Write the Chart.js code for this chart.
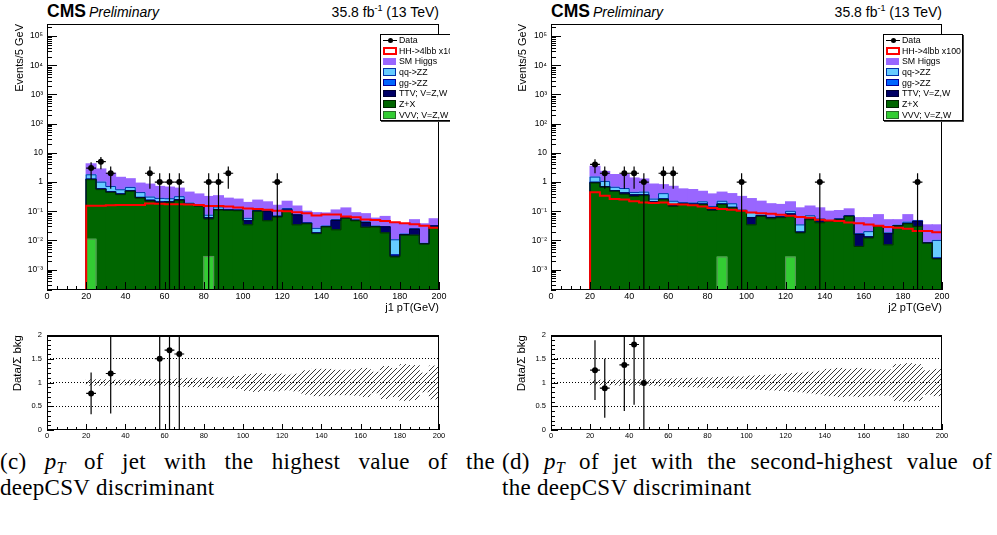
<!DOCTYPE html>
<html>
<head>
<meta charset="utf-8">
<title>jet pT, deepCSV ordered</title>
<script src="https://cdn.jsdelivr.net/npm/chart.js@4.4.1/dist/chart.umd.min.js"></script>
<style>
  html, body { margin: 0; padding: 0; background: #fff; }
  body { font-family: "Liberation Sans", Arial, Helvetica, sans-serif; color: #000; }
  #page { position: relative; width: 997px; height: 535px; overflow: hidden; }
  .panel { position: absolute; top: 0; height: 445px; overflow: hidden; }
  .panel canvas { position: absolute; left: 0; }
  .head { position: absolute; top: 1px; white-space: nowrap; line-height: 20px; }
  .cms { font-weight: bold; font-size: 17.5px; }
  .prelim { font-style: italic; font-size: 14px; margin-left: 3px; }
  .lumi { position: absolute; top: 2px; font-size: 14px; white-space: nowrap; line-height: 20px; }
  .lumi sup { font-size: 9px; vertical-align: 6px; line-height: 0; }
  .legend { position: absolute; top: 34px; width: 78px; height: 85px; border: 1px solid #000; background: #fff; box-shadow: 1px 1px 0 #444; }
  .legend .row { position: relative; height: 10.7px; font-size: 8.8px; line-height: 10.7px; padding-left: 18px; white-space: nowrap; }
  .legend .mk { position: absolute; left: 2px; top: 1.2px; width: 11px; height: 5.5px; border: 1.5px solid; }
  .legend .mkdata { position: absolute; left: 2px; top: 5px; width: 14px; height: 1px; background: #000; }
  .legend .mkdata::after { content: ''; position: absolute; left: 4.5px; top: -2.5px; width: 5px; height: 5px; border-radius: 50%; background: #000; }
  .cap { position: absolute; font-family: "Liberation Serif", "DejaVu Serif", serif; font-size: 23px; line-height: 26px; letter-spacing: 0.3px; }
  .cap div { white-space: nowrap; }
  .cap .l1 { white-space: normal; text-align: justify; text-align-last: justify; }
  .cap sub { font-size: 0.7em; vertical-align: -0.25em; line-height: 0; }
</style>
</head>
<body>
<div id="page">
  <div class="panel" id="pl" style="left:0; width:450px;">
    <div class="head" style="left:47px;"><span class="cms">CMS</span><span class="prelim">Preliminary</span></div>
    <div class="lumi" style="right:11px;">35.8 fb<sup>-1</sup> (13 TeV)</div>
    <canvas id="mainL" width="450" height="315" style="top:0;"></canvas>
    <canvas id="ratioL" width="450" height="125" style="top:320px;"></canvas>
    <div class="legend" id="legL" style="left:380px;"></div>
  </div>
  <div class="panel" id="pr" style="left:500px; width:497px;">
    <div class="head" style="left:51px;"><span class="cms">CMS</span><span class="prelim">Preliminary</span></div>
    <div class="lumi" style="right:55px;">35.8 fb<sup>-1</sup> (13 TeV)</div>
    <canvas id="mainR" width="497" height="315" style="top:0;"></canvas>
    <canvas id="ratioR" width="497" height="125" style="top:320px;"></canvas>
    <div class="legend" id="legR" style="left:383px;"></div>
  </div>
  <div class="cap" style="left:0; top:449px; width:495px;">
    <div class="l1">(c) <i>p</i><sub><i>T</i></sub> of jet with the highest value of the</div>
    <div>deepCSV discriminant</div>
  </div>
  <div class="cap" style="left:502px; top:449px; width:490px;">
    <div class="l1">(d) <i>p</i><sub><i>T</i></sub> of jet with the second-highest value of</div>
    <div>the deepCSV discriminant</div>
  </div>
</div>
<script>
// 5 GeV bins, low edges
const BIN = 5;
const binLow = [0,5,10,15,20,25,30,35,40,45,50,55,60,65,70,75,80,85,90,95,100,105,110,115,120,125,130,135,140,145,150,155,160,165,170,175,180,185,190,195];

// ---- j1: jet with highest deepCSV ----
const dataJ1 = [0,0,0,0, 3,5,2,0,0,0,2,1,1,1, 0,0,1,1,2,0,0,0,0,1, 0,0,0,0,0,0,0,0,0,0,0,0,0,0,0,0];
const hhJ1   = [0,0,0,0, 0.155,0.155,0.16,0.165,0.165,0.165,0.185,0.18,0.175,0.175, 0.17,0.165,0.15,0.15,0.145,0.135,0.125,0.12,0.112,0.104, 0.1,0.092,0.085,0.072,0.078,0.078,0.066,0.062,0.052,0.05, 0.046,0.042,0.039,0.036,0.032,0.027];
const vvvJ1  = [0,0,0,0, 0.011,0,0,0,0,0,0,0,0,0, 0,0,0.0028,0,0,0,0,0,0,0, 0,0,0,0,0,0,0,0,0,0, 0,0,0,0,0,0];
const zxJ1   = [0,0,0,0, 1.19,0.55,0.44,0.37,0.48,0.28,0.22,0.19,0.2,0.23, 0.17,0.15,0.051,0.11,0.107,0.104,0.034,0.1,0.047,0.063, 0.104,0.034,0.037,0.017,0.029,0.023,0.057,0.047,0.028,0.029, 0.018,0.0027,0.015,0.015,0.0075,0.028];
const ttvJ1  = [0,0,0,0, 0.04,0.025,0.015,0.015,0.015,0.015,0.015,0.015,0.008,0.015, 0.004,0.004,0.005,0.004,0.002,0.003,0.013,0.002,0.052,0.003, 0.005,0.04,0.0015,0.0008,0.0008,0.025,0.002,0.0015,0.013,0.0008, 0.011,0.0002,0.0008,0.009,0.0002,0.003];
const ggJ1   = [0,0,0,0, 0.01,0.006,0.005,0.004,0.004,0.003,0.003,0.002,0.002,0.002, 0.001,0.001,0.001,0.001,0.001,0.001,0.001,0.0007,0.0006,0.0005, 0.0008,0.0005,0.0004,0.0003,0.0003,0.0003,0.0003,0.0003,0.0002,0.0002, 0.0002,0.0003,0.0002,0.0002,0.0001,0.0002];
const qqJ1   = [0,0,0,0, 0.52,0.41,0.245,0.155,0.155,0.137,0.067,0.068,0.058,0.068, 0.014,0.004,0.013,0.024,0.004,0.003,0.009,0.0023,0.0034,0.0025, 0.014,0.0025,0.0016,0.0077,0.0007,0.0037,0.0017,0.0007,0.0018,0.0008, 0.0008,0.0073,0.0003,0.0008,0.0001,0.0008];
const smhJ1  = [0,0,0,0, 2.42,1.8,1.29,0.9,0.64,0.48,0.54,0.43,0.4,0.3, 0.26,0.23,0.246,0.2,0.165,0.148,0.142,0.134,0.106,0.09, 0.095,0.073,0.059,0.063,0.056,0.058,0.068,0.039,0.039,0.027, 0.036,0.0305,0.0205,0.026,0.029,0.023];
const ratioJ1    = [null,null,null,null, 0.77,null,1.19,null,null,null,null,1.5,1.68,1.6, null,null,null,null,null,null,null,null,null,null, null,null,null,null,null,null,null,null,null,null, null,null,null,null,null,null];
const ratioErrJ1 = [null,null,null,null, 0.44,null,0.84,null,null,null,null,1.5,1.68,1.6, null,null,null,null,null,null,null,null,null,null, null,null,null,null,null,null,null,null,null,null, null,null,null,null,null,null];
const bandJ1 = [0,0,0,0, 0.06,0.06,0.05,0.05,0.05,0.06,0.06,0.06,0.06,0.08, 0.09,0.09,0.11,0.1,0.11,0.13,0.17,0.19,0.17,0.18, 0.16,0.18,0.25,0.28,0.28,0.26,0.26,0.27,0.3,0.22, 0.34,0.3,0.38,0.36,0.2,0.35];

// ---- j2: jet with second-highest deepCSV ----
const dataJ2 = [0,0,0,0, 4,2,0,2,2,1,0,2,2,0, 0,0,0,0,0,1,0,0,0,0, 0,0,0,1,0,0,0,0,0,0, 0,0,0,1,0,0];
const hhJ2   = [0,0,0,0, 0.45,0.34,0.26,0.25,0.22,0.2,0.19,0.2,0.175,0.17, 0.16,0.146,0.13,0.12,0.112,0.104,0.09,0.086,0.082,0.076, 0.07,0.063,0.06,0.051,0.048,0.046,0.041,0.039,0.035,0.032, 0.029,0.027,0.025,0.021,0.021,0.019];
const vvvJ2  = [0,0,0,0, 0,0,0,0,0,0,0,0,0,0, 0,0,0,0.0027,0,0,0,0,0,0, 0.0027,0,0,0,0,0,0,0,0,0, 0,0,0,0,0,0];
const zxJ2   = [0,0,0,0, 0.92,0.66,0.48,0.38,0.32,0.34,0.2,0.25,0.146,0.175, 0.17,0.17,0.107,0.167,0.13,0.099,0.034,0.066,0.055,0.06, 0.063,0.018,0.051,0.04,0.045,0.051,0.066,0.0062,0.012,0.03, 0.007,0.031,0.037,0.03,0.008,0.0023];
const ttvJ2  = [0,0,0,0, 0.05,0.03,0.02,0.04,0.04,0.02,0.01,0.01,0.014,0.005, 0.005,0.005,0.003,0.005,0.005,0.003,0.026,0.004,0.005,0.003, 0.014,0.001,0.004,0.012,0.002,0.002,0.002,0.0098,0.001,0.001, 0.01,0.001,0.001,0.015,0.0002,0.0001];
const ggJ2   = [0,0,0,0, 0.008,0.005,0.004,0.004,0.003,0.003,0.002,0.002,0.002,0.002, 0.001,0.001,0.001,0.001,0.001,0.001,0.001,0.0008,0.0006,0.0005, 0.0006,0.0004,0.0004,0.0003,0.0003,0.0003,0.0003,0.0002,0.0002,0.0002, 0.0002,0.0002,0.0002,0.0002,0.0001,0.0001];
const qqJ2   = [0,0,0,0, 0.5,0.355,0.156,0.176,0.077,0.087,0.048,0.138,0.058,0.018, 0.014,0.034,0.035,0.044,0.044,0.007,0.029,0.011,0.0014,0.0015, 0.019,0.0146,0.0146,0.0017,0.0007,0.0007,0.0007,0.0008,0.0068,0.0008, 0.0008,0.0008,0.0038,0.0008,0.0002,0.0075];
const smhJ2  = [0,0,0,0, 1.97,1.25,1.14,1.2,0.93,0.82,0.59,0.41,0.49,0.38, 0.36,0.27,0.244,0.23,0.22,0.21,0.18,0.138,0.118,0.105, 0.11,0.096,0.08,0.076,0.052,0.051,0.051,0.043,0.04,0.044, 0.033,0.018,0.034,0.002,0.0255,0.024];
const ratioJ2    = [null,null,null,null, 1.26,0.88,null,1.37,1.8,0.99,null,null,null,null, null,null,null,null,null,null,null,null,null,null, null,null,null,null,null,null,null,null,null,null, null,null,null,null,null,null];
const ratioErrJ2 = [null,null,null,null, 0.63,0.62,null,0.97,1.27,0.99,null,null,null,null, null,null,null,null,null,null,null,null,null,null, null,null,null,null,null,null,null,null,null,null, null,null,null,null,null,null];
const bandJ2 = [0,0,0,0, 0.05,0.05,0.05,0.06,0.06,0.06,0.06,0.07,0.08,0.09, 0.09,0.1,0.1,0.11,0.12,0.12,0.14,0.15,0.16,0.17, 0.19,0.2,0.22,0.24,0.28,0.3,0.28,0.3,0.28,0.27, 0.27,0.38,0.4,0.38,0.25,0.28];

// axis ranges and ticks
const Y_MIN = 2e-4, Y_MAX = 2.6e5;
const logTicks = [1e-3, 1e-2, 1e-1, 1, 10, 1e2, 1e3, 1e4, 1e5];

// styles
const COL  = { smh: '#9966ff', qq: '#66ccff', gg: '#0066ff', ttv: '#000066', zx: '#006600', vvv: '#33cc33', hh: '#ff0000' };
const EDGE = { qq: '#0033aa', gg: '#000099', ttv: '#000033', zx: '#003300', vvv: '#5a8a5a' };
const FONT = '"Liberation Sans", Arial, Helvetica, sans-serif';
Chart.defaults.font.family = FONT;
Chart.defaults.color = '#000';

const SUP = { '-': '\u207b', '0': '\u2070', '1': '\u00b9', '2': '\u00b2', '3': '\u00b3', '4': '\u2074', '5': '\u2075', '6': '\u2076', '7': '\u2077', '8': '\u2078', '9': '\u2079' };
function logLabel(v) {
  const e = Math.round(Math.log10(v));
  if (e === 0) return '1';
  if (e === 1) return '10';
  return '10' + String(e).split('').map(c => SUP[c]).join('');
}

// error bars for the data markers
const errorBars = {
  id: 'errorBars',
  afterDatasetsDraw(chart) {
    const { ctx, chartArea: a, scales: { x, y } } = chart;
    ctx.save();
    ctx.beginPath();
    ctx.rect(a.left, a.top, a.width, a.height);
    ctx.clip();
    ctx.strokeStyle = '#000';
    ctx.lineWidth = 1.2;
    chart.data.datasets.forEach(ds => {
      if (!ds.err) return;
      ds.data.forEach((p, i) => {
        const e = ds.err[i];
        const px = x.getPixelForValue(p.x);
        const py = y.getPixelForValue(p.y);
        const lo = p.y - e > 0 ? y.getPixelForValue(p.y - e) : a.bottom;
        const hi = y.getPixelForValue(p.y + e);
        ctx.beginPath();
        ctx.moveTo(px, lo);
        ctx.lineTo(px, hi);
        ctx.moveTo(x.getPixelForValue(p.x - BIN / 2), py);
        ctx.lineTo(x.getPixelForValue(p.x + BIN / 2), py);
        ctx.stroke();
      });
    });
    ctx.restore();
  }
};

// ROOT style frame with inward ticks
const rootFrame = {
  id: 'rootFrame',
  afterDraw(chart, args, o) {
    const { ctx, chartArea: a, scales: { x, y } } = chart;
    ctx.save();
    ctx.strokeStyle = '#000';
    ctx.lineWidth = 1;
    ctx.beginPath();
    const nx = Math.round((x.max - x.min) / o.xMinor);
    for (let i = 0; i <= nx; i++) {
      const v = x.min + i * o.xMinor;
      const px = Math.round(x.getPixelForValue(v)) + 0.5;
      const len = (i % (o.xMajor / o.xMinor) === 0) ? o.xMajorLen : o.xMinorLen;
      ctx.moveTo(px, a.bottom);
      ctx.lineTo(px, a.bottom - len);
    }
    if (o.log) {
      for (let e = Math.floor(Math.log10(y.min)); e <= Math.ceil(Math.log10(y.max)); e++) {
        for (let k = 1; k <= 9; k++) {
          const v = k * Math.pow(10, e);
          if (v < y.min || v > y.max) continue;
          const py = Math.round(y.getPixelForValue(v)) + 0.5;
          ctx.moveTo(a.left, py);
          ctx.lineTo(a.left + (k === 1 ? o.yMajorLen : o.yMinorLen), py);
        }
      }
    } else {
      const ny = Math.round((y.max - y.min) / o.yMinor);
      for (let i = 0; i <= ny; i++) {
        const v = y.min + i * o.yMinor;
        const py = Math.round(y.getPixelForValue(v)) + 0.5;
        ctx.moveTo(a.left, py);
        ctx.lineTo(a.left + ((i % Math.round(o.yMajor / o.yMinor) === 0) ? o.yMajorLen : o.yMinorLen), py);
      }
    }
    ctx.stroke();
    ctx.strokeRect(Math.round(a.left) + 0.5, Math.round(a.top) + 0.5, Math.round(a.width) - 1, Math.round(a.height) - 1);
    if (o.thickTop) {
      ctx.lineWidth = 2;
      ctx.beginPath();
      ctx.moveTo(a.left, Math.round(a.top) + 1);
      ctx.lineTo(a.right, Math.round(a.top) + 1);
      ctx.stroke();
    }
    ctx.restore();
  }
};

function hatch() {
  const c = document.createElement('canvas');
  c.width = 5; c.height = 5;
  const g = c.getContext('2d');
  g.strokeStyle = '#222';
  g.lineWidth = 0.9;
  g.beginPath();
  g.moveTo(0, 5); g.lineTo(5, 0);
  g.moveTo(-1, 1); g.lineTo(1, -1);
  g.moveTo(4, 6); g.lineTo(6, 4);
  g.stroke();
  return g.createPattern(c, 'repeat');
}

// filled stack component (stacked through the 'bkg' stack key)
function stackSet(label, values, bg) {
  return {
    type: 'bar', label, stack: 'bkg',
    data: binLow.map((b, i) => ({ x: b + BIN / 2, y: values[i] > 0 ? values[i] : null })),
    backgroundColor: bg, borderWidth: 0, inflateAmount: 0.6,
    barPercentage: 1, categoryPercentage: 1
  };
}

// histogram outline as a stepped line along bin edges
function stepLine(label, values, color, width) {
  const pts = binLow.map((b, i) => ({ x: b, y: values[i] > 0 ? values[i] : Y_MIN }));
  pts.push({ x: binLow[binLow.length - 1] + BIN, y: pts[pts.length - 1].y });
  return { type: 'line', label, data: pts, stepped: true, borderColor: color, borderWidth: width,
           pointRadius: 0, pointHoverRadius: 0, fill: false };
}

function mainChart(id, d, p) {
  const pts = [];
  binLow.forEach((b, i) => { if (d.data[i] > 0) pts.push({ x: b + BIN / 2, y: d.data[i] }); });
  // running sums of the stack, used only for the outlines of each layer
  const cZX  = binLow.map((b, i) => d.vvv[i] + d.zx[i]);
  const cTTV = cZX.map((v, i) => v + d.ttv[i]);
  const cGG  = cTTV.map((v, i) => v + d.gg[i]);
  const cQQ  = cGG.map((v, i) => v + d.qq[i]);
  return new Chart(document.getElementById(id), {
    type: 'bar',
    data: {
      datasets: [
        { type: 'line', label: 'Data', data: pts, err: pts.map(q => Math.sqrt(q.y)), showLine: false,
          pointRadius: 3, pointHoverRadius: 3, pointBackgroundColor: '#000', pointBorderWidth: 0 },
        stepLine('HH->4lbb x100', d.hh, COL.hh, 2),
        stepLine('VVV edge', d.vvv, EDGE.vvv, 1),
        stepLine('Z+X edge', cZX, EDGE.zx, 1),
        stepLine('TTV edge', cTTV, EDGE.ttv, 1),
        stepLine('gg edge', cGG, EDGE.gg, 1),
        stepLine('qq edge', cQQ, EDGE.qq, 1),
        stackSet('VVV; V=Z,W', d.vvv, COL.vvv),
        stackSet('Z+X', d.zx, COL.zx),
        stackSet('TTV; V=Z,W', d.ttv, COL.ttv),
        stackSet('gg->ZZ', d.gg, COL.gg),
        stackSet('qq->ZZ', d.qq, COL.qq),
        stackSet('SM Higgs', d.smh, COL.smh)
      ]
    },
    options: {
      animation: false, responsive: false, devicePixelRatio: 1, events: [],
      layout: { padding: { left: 0, right: p.padRight, top: 24, bottom: 0 } },
      plugins: {
        legend: { display: false }, tooltip: { enabled: false },
        rootFrame: { log: true, xMajor: 20, xMinor: 5, xMajorLen: 8, xMinorLen: 4, yMajorLen: 10, yMinorLen: 5 }
      },
      scales: {
        x: {
          type: 'linear', min: 0, max: 200, offset: false,
          grid: { display: false, drawTicks: false, offset: false }, border: { display: false },
          ticks: { stepSize: 20, autoSkip: false, maxRotation: 0, padding: 1, font: { size: 9 } },
          title: { display: true, text: p.xTitle, align: 'end', padding: { top: 0, bottom: 0 }, font: { size: 11 } },
          afterFit: s => { s.height = 25; s.paddingLeft = 0; s.paddingRight = 0; }
        },
        y: {
          type: 'logarithmic', min: Y_MIN, max: Y_MAX,
          grid: { display: false, drawTicks: false }, border: { display: false },
          afterBuildTicks: s => { s.ticks = logTicks.map(v => ({ value: v })); },
          ticks: { autoSkip: false, padding: 4, font: { size: 8.5 }, callback: v => logLabel(v) },
          title: { display: true, text: 'Events/5 GeV', align: 'end', padding: { top: p.yTitlePad, bottom: 0 }, font: { size: 11 } },
          afterFit: s => { s.width = p.axisW; }
        }
      }
    },
    plugins: [errorBars, rootFrame]
  });
}

function ratioChart(id, r, re, band, p) {
  const pts = [], errs = [];
  binLow.forEach((b, i) => { if (r[i] !== null) { pts.push({ x: b + BIN / 2, y: r[i] }); errs.push(re[i]); } });
  return new Chart(document.getElementById(id), {
    type: 'bar',
    data: {
      datasets: [
        { type: 'line', label: 'Data/bkg', data: pts, err: errs, showLine: false,
          pointRadius: 3, pointHoverRadius: 3, pointBackgroundColor: '#000', pointBorderWidth: 0 },
        { type: 'bar', label: 'bkg unc.',
          data: binLow.map((b, i) => ({ x: b + BIN / 2, y: band[i] > 0 ? [1 - band[i], 1 + band[i]] : null })),
          backgroundColor: hatch(), borderWidth: 0, barPercentage: 1, categoryPercentage: 1 }
      ]
    },
    options: {
      animation: false, responsive: false, devicePixelRatio: 1, events: [],
      layout: { padding: { left: 0, right: p.padRight, top: 15, bottom: 0 } },
      plugins: {
        legend: { display: false }, tooltip: { enabled: false },
        rootFrame: { log: false, thickTop: true, xMajor: 20, xMinor: 5, xMajorLen: 6, xMinorLen: 3, yMajor: 0.5, yMinor: 0.1, yMajorLen: 7, yMinorLen: 4 }
      },
      scales: {
        x: {
          type: 'linear', min: 0, max: 200, offset: false,
          grid: { display: false, drawTicks: false, offset: false }, border: { display: false },
          ticks: { stepSize: 20, autoSkip: false, maxRotation: 0, padding: 1, font: { size: 7.5 } },
          afterFit: s => { s.height = 15; s.paddingLeft = 0; s.paddingRight = 0; }
        },
        y: {
          type: 'linear', min: 0, max: 2,
          grid: { drawTicks: false, lineWidth: 1,
                  color: c => (c.tick && c.tick.value > 0 && c.tick.value < 2) ? '#000' : 'rgba(0,0,0,0)' },
          border: { display: false, dash: [1, 2] },
          ticks: { stepSize: 0.5, autoSkip: false, padding: 5, font: { size: 7.5 }, callback: v => String(+v.toFixed(1)) },
          title: { display: true, text: 'Data/\u03a3 bkg', align: 'end', padding: { top: p.yTitlePad, bottom: 0 }, font: { size: 11.5 } },
          afterFit: s => { s.width = p.axisW; }
        }
      }
    },
    plugins: [errorBars, rootFrame]
  });
}

const legendItems = [
  { label: 'Data', kind: 'data' },
  { label: 'HH->4lbb x100', fill: '#fff', edge: COL.hh, w: 2 },
  { label: 'SM Higgs', fill: COL.smh, edge: COL.smh },
  { label: 'qq->ZZ', fill: COL.qq, edge: EDGE.qq },
  { label: 'gg->ZZ', fill: COL.gg, edge: EDGE.gg },
  { label: 'TTV; V=Z,W', fill: COL.ttv, edge: EDGE.ttv },
  { label: 'Z+X', fill: COL.zx, edge: '#002200' },
  { label: 'VVV; V=Z,W', fill: COL.vvv, edge: '#2a6a2a' }
];
function buildLegend(id) {
  const el = document.getElementById(id);
  legendItems.forEach(it => {
    const row = document.createElement('div');
    row.className = 'row';
    const mk = document.createElement('span');
    if (it.kind === 'data') {
      mk.className = 'mkdata';
    } else {
      mk.className = 'mk';
      mk.style.background = it.fill;
      mk.style.borderColor = it.edge;
      if (it.w) { mk.style.borderWidth = it.w + 'px'; mk.style.width = '10px'; mk.style.height = '4.5px'; }
    }
    row.appendChild(mk);
    row.appendChild(document.createTextNode(it.label));
    el.appendChild(row);
  });
}

mainChart('mainL', { data: dataJ1, hh: hhJ1, vvv: vvvJ1, zx: zxJ1, ttv: ttvJ1, gg: ggJ1, qq: qqJ1, smh: smhJ1 },
  { padRight: 11, axisW: 47, yTitlePad: 13, xTitle: 'j1 pT(GeV)' });
mainChart('mainR', { data: dataJ2, hh: hhJ2, vvv: vvvJ2, zx: zxJ2, ttv: ttvJ2, gg: ggJ2, qq: qqJ2, smh: smhJ2 },
  { padRight: 55, axisW: 51, yTitlePad: 16, xTitle: 'j2 pT(GeV)' });
ratioChart('ratioL', ratioJ1, ratioErrJ1, bandJ1, { padRight: 11, axisW: 47, yTitlePad: 11 });
ratioChart('ratioR', ratioJ2, ratioErrJ2, bandJ2, { padRight: 55, axisW: 51, yTitlePad: 15 });
buildLegend('legL');
buildLegend('legR');
</script>
</body>
</html>
